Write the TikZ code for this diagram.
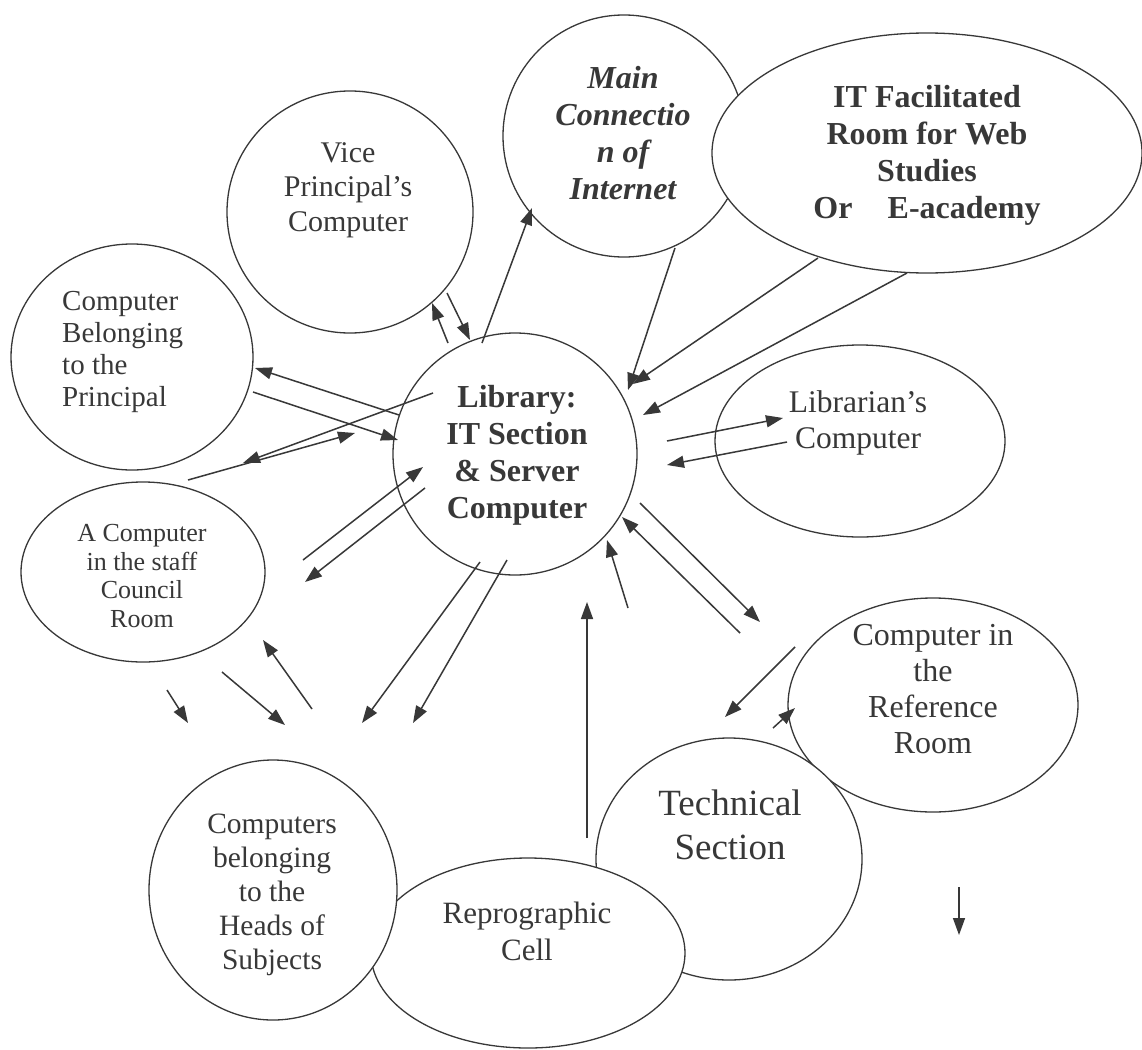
\documentclass[tikz,border=0pt]{standalone}
\usepackage{fontspec}
\setmainfont{Liberation Serif}
\usetikzlibrary{shapes.geometric,arrows.meta}
\definecolor{ink}{HTML}{383838}
\begin{document}
\begin{tikzpicture}[x=1pt,y=-1pt,
  bub/.style={ellipse, draw=ink, line width=1.3pt, fill=white, inner sep=0pt, outer sep=0pt},
  lbl/.style={text=ink, align=center, inner sep=0pt},
  arr/.style={draw=ink, line width=1.5pt, -{Triangle[length=17pt,width=12pt]}},
]
\useasboundingbox[fill=white] (0,0) rectangle (1142,1049);

% ---- bubbles ----
\node[bub, minimum width=246pt, minimum height=242pt] (vp)   at (350,212) {};
\node[bub, minimum width=242pt, minimum height=242pt] (mc)   at (624,136) {};
\node[bub, minimum width=430pt, minimum height=240pt] (itf)  at (927,153) {};
\node[bub, minimum width=244pt, minimum height=242pt] (lib)  at (515,454) {};
\node[bub, minimum width=242pt, minimum height=226pt] (prin) at (132,357) {};
\node[bub, minimum width=244pt, minimum height=180pt] (staff) at (143,572) {};
\node[bub, minimum width=290pt, minimum height=192pt] (libr) at (860,441) {};
\node[bub, minimum width=290pt, minimum height=214pt] (ref)  at (933,705) {};
\node[bub, minimum width=266pt, minimum height=242pt] (tech) at (729,859) {};
\node[bub, minimum width=314pt, minimum height=190pt] (repro) at (528,953) {};
\node[bub, minimum width=248pt, minimum height=260pt] (heads) at (273,890) {};

% ---- connector end points ----
\coordinate (p1s) at (448,343); \coordinate (p1e) at (432,303);
\coordinate (p2s) at (447,293); \coordinate (p2e) at (470,340);
\coordinate (p3s) at (482,343); \coordinate (p3e) at (532,208);
\coordinate (p4s) at (675,248); \coordinate (p4e) at (628,390);
\coordinate (p5s) at (818,258); \coordinate (p5e) at (633,384);
\coordinate (p6s) at (907,273); \coordinate (p6e) at (643,415);
\coordinate (p7s) at (667,441); \coordinate (p7e) at (783,418);
\coordinate (p8s) at (787,442); \coordinate (p8e) at (667,465);
\coordinate (p9s) at (640,503); \coordinate (p9e) at (760,622);
\coordinate (p10s) at (740,633); \coordinate (p10e) at (622,517);
\coordinate (p11s) at (628,608); \coordinate (p11e) at (607,540);
\coordinate (p12s) at (587,838); \coordinate (p12e) at (587,602);
\coordinate (p13s) at (795,647); \coordinate (p13e) at (725,717);
\coordinate (p14s) at (773,728); \coordinate (p14e) at (795,708);
\coordinate (p15s) at (959,887); \coordinate (p15e) at (959,935);
\coordinate (p16s) at (399,415); \coordinate (p16e) at (255,368);
\coordinate (p17s) at (253,392); \coordinate (p17e) at (398,440);
\coordinate (p18s) at (433,393); \coordinate (p18e) at (243,463);
\coordinate (p19s) at (188,480); \coordinate (p19e) at (355,433);
\coordinate (p20s) at (303,560); \coordinate (p20e) at (423,467);
\coordinate (p21s) at (425,488); \coordinate (p21e) at (305,582);
\coordinate (p22s) at (480,562); \coordinate (p22e) at (362,723);
\coordinate (p23s) at (507,560); \coordinate (p23e) at (413,723);
\coordinate (p24s) at (167,690); \coordinate (p24e) at (188,723);
\coordinate (p25s) at (222,672); \coordinate (p25e) at (285,725);
\coordinate (p26s) at (312,709); \coordinate (p26e) at (263,640);

\foreach \i in {1,...,26} { \draw[arr] (p\i s) -- (p\i e); }

% ---- labels ----
\node[lbl, font=\fontsize{30}{34.5}\selectfont] (vpt) at (348,190) {Vice\\Principal’s\\Computer};
\node[lbl, font=\fontsize{32}{37}\selectfont\bfseries\itshape] (mct) at (623,133) {Main\\Connectio\\n of\\Internet};
\node[lbl, font=\fontsize{32}{37}\selectfont\bfseries] (itt) at (927,155) {IT Facilitated\\Room for Web\\Studies\\Or\hspace{1.1em}E-academy};
\node[lbl, font=\fontsize{32}{37}\selectfont\bfseries] (libt) at (517,455) {Library:\\IT Section\\\& Server\\Computer};
\node[lbl, align=left, anchor=west, font=\fontsize{29}{32}\selectfont] (print) at (62,352) {Computer\\Belonging\\to the\\Principal};
\node[lbl, font=\fontsize{26}{28.5}\selectfont] (stafft) at (142,576) {A Computer\\in the staff\\Council\\Room};
\node[lbl, font=\fontsize{31.5}{36}\selectfont] (librt) at (858,423) {Librarian’s\\Computer};
\node[lbl, font=\fontsize{32}{36}\selectfont] (reft) at (933,689) {Computer in\\the\\Reference\\Room};
\node[lbl, font=\fontsize{37}{44}\selectfont] (techt) at (730,825) {Technical\\Section};
\node[lbl, font=\fontsize{31}{37}\selectfont] (reprot) at (527,931) {Reprographic\\Cell};
\node[lbl, font=\fontsize{29.5}{34}\selectfont] (headst) at (272,895) {Computers\\belonging\\to the\\Heads of\\Subjects};
\end{tikzpicture}
\end{document}
